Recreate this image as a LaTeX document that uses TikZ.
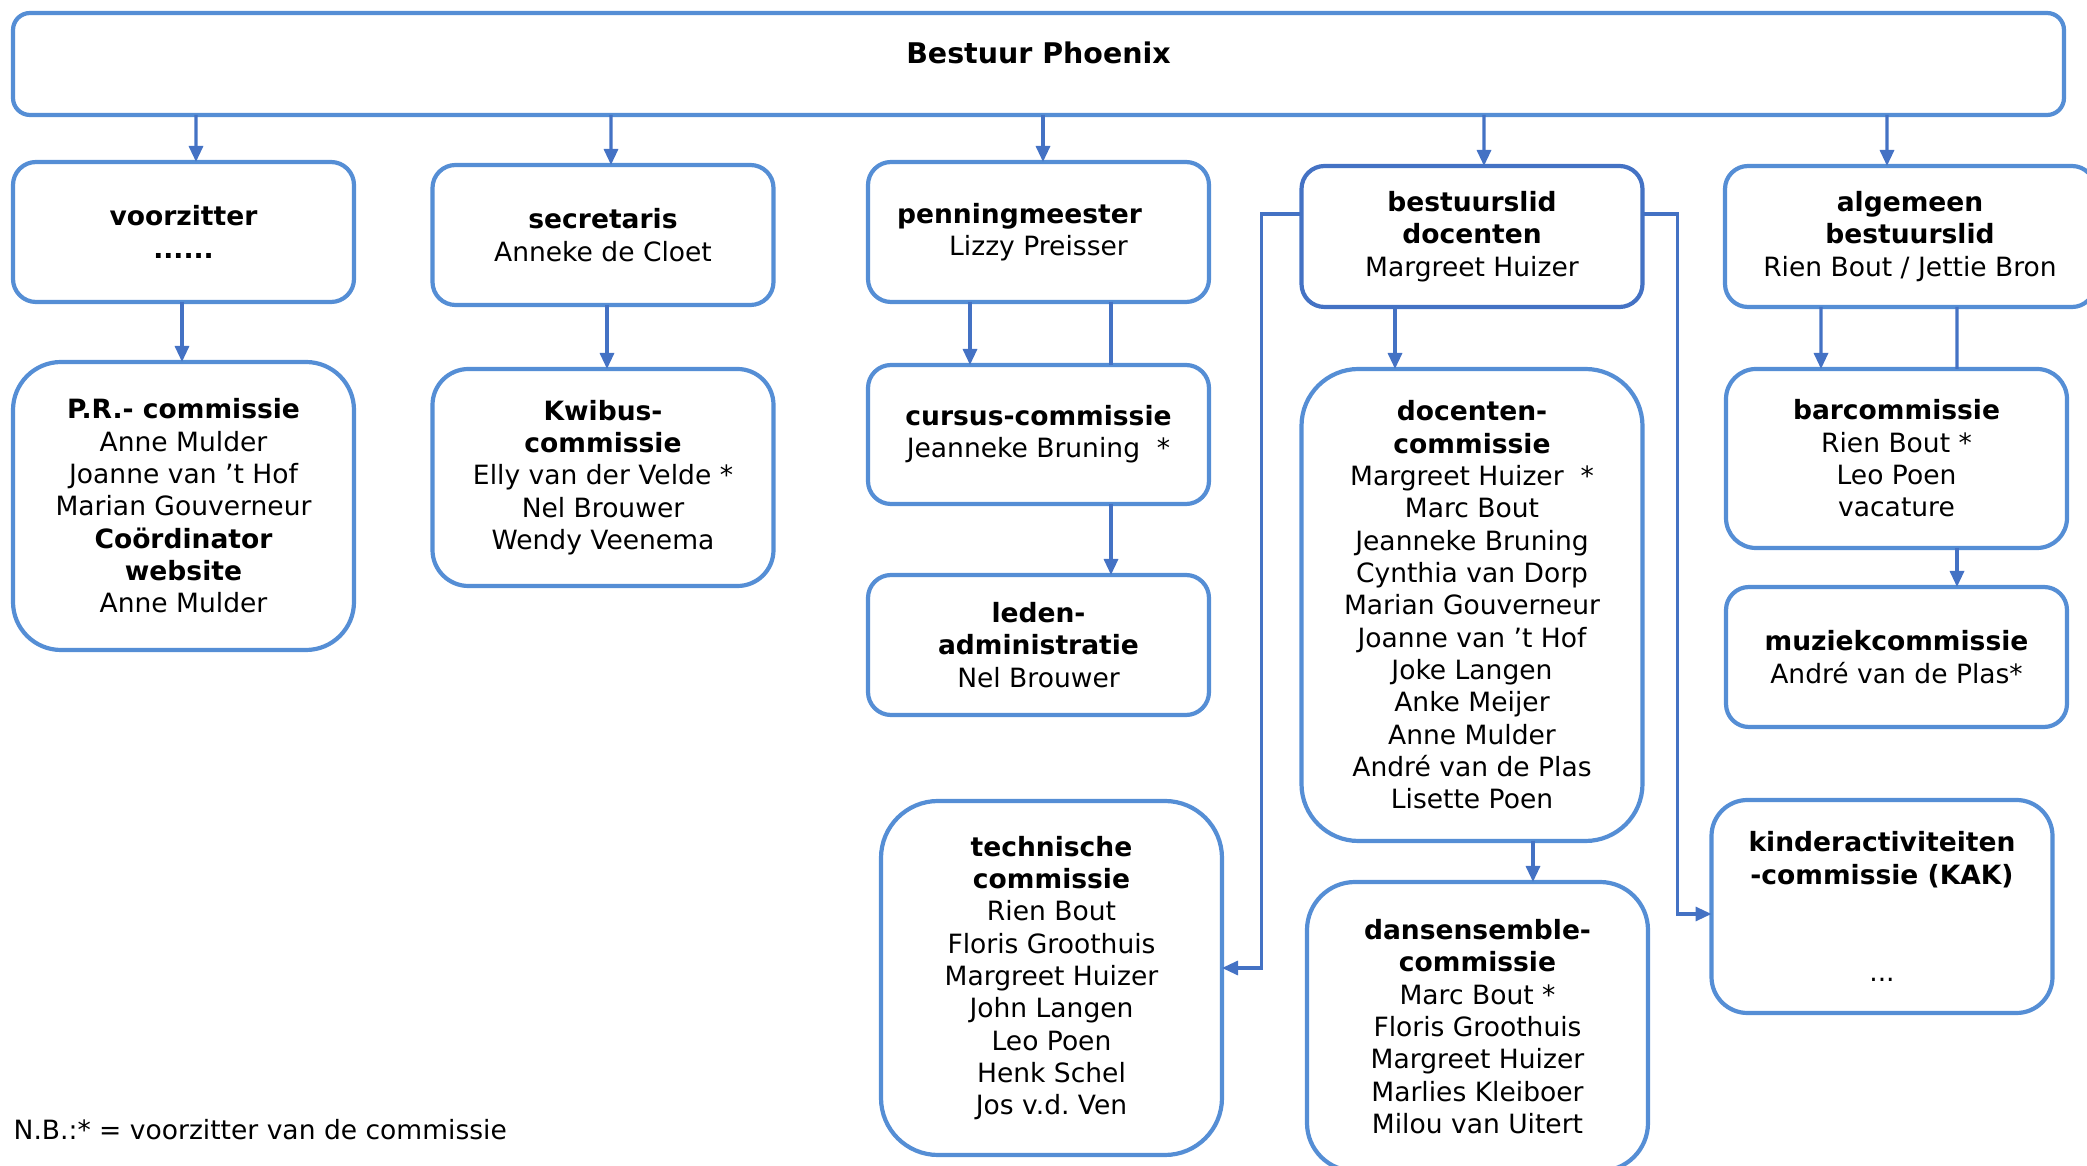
\documentclass[tikz,border=0pt]{standalone}
\usepackage{fontspec}
\setmainfont{DejaVu Sans}
\usepackage{tikz}
\usetikzlibrary{arrows.meta}
\definecolor{randblauw}{HTML}{558ED5}
\definecolor{lijnblauw}{HTML}{4472C4}
\frenchspacing

\begin{document}
\begin{tikzpicture}[x=0.1mm,y=-0.1mm]
		\useasboundingbox (0,0) rectangle (2087,1166);

		\begin{scope}[every node/.style={draw=randblauw,line width=0.42mm,fill=white,align=center,inner sep=0pt,outer sep=0pt,
					  minimum width=34.1mm,minimum height=14mm,rounded corners=2.3mm,font=\fontsize{7.55}{9.2}\selectfont}]
			\node[minimum width=205.1mm,minimum height=10.2mm,rounded corners=1.7mm,text depth=2.2mm,
				  font=\fontsize{8.1}{10}\selectfont\bfseries] (bestuur) at (1038.5,64) {Bestuur Phoenix};

			% bestuursleden
			\node (vz) at (183.5,232) {\textbf{voorzitter}\\\textbf{......}};
			\node (sec) at (603,235) {\textbf{secretaris}\\Anneke de Cloet};
			\node (pen) at (1038.5,232) {\textbf{penningmeester}\kern3.8mm\\Lizzy Preisser};
			\node[draw=lijnblauw,minimum height=14.1mm] (bdoc) at (1472,236.5) {\textbf{bestuurslid}\\\textbf{docenten}\\Margreet Huizer};
			\node[minimum width=37mm,minimum height=14.1mm] (alg) at (1910,236.5) {\textbf{algemeen}\\\textbf{bestuurslid}\\Rien Bout / Jettie Bron};

			% commissies
			\node[minimum height=28.8mm,rounded corners=4.8mm] (pr) at (183.5,506) {\textbf{P.R.- commissie}\\Anne Mulder\\Joanne van ’t Hof\\Marian Gouverneur\\\textbf{Coördinator}\\\textbf{website}\\Anne Mulder};
			\node[minimum height=21.7mm,rounded corners=3.6mm] (kw) at (603,477.5) {\textbf{Kwibus-}\\\textbf{commissie}\\Elly van der Velde *\\Nel Brouwer\\Wendy Veenema};
			\node[minimum height=13.9mm] (cur) at (1038.5,434.5) {\textbf{cursus-commissie}\\Jeanneke Bruning~~*};
			\node (led) at (1038.5,645) {\textbf{leden-}\\\textbf{administratie}\\Nel Brouwer};
			\node[minimum height=35.4mm,rounded corners=5.7mm] (tech) at (1051.5,978) {\textbf{technische}\\\textbf{commissie}\\Rien Bout\\Floris Groothuis\\Margreet Huizer\\John Langen\\Leo Poen\\Henk Schel\\Jos v.d. Ven};
			\node[minimum height=47.2mm,rounded corners=5.7mm] (dcom) at (1472,605) {\textbf{docenten-}\\\textbf{commissie}\\Margreet Huizer~~*\\Marc Bout\\Jeanneke Bruning\\Cynthia van Dorp\\Marian Gouverneur\\Joanne van ’t Hof\\Joke Langen\\Anke Meijer\\Anne Mulder\\André van de Plas\\Lisette Poen};
			\node[minimum height=28.9mm,rounded corners=4.8mm] (dans) at (1477.5,1026.5) {\textbf{dansensemble-}\\\textbf{commissie}\\Marc Bout *\\Floris Groothuis\\Margreet Huizer\\Marlies Kleiboer\\Milou van Uitert};
			\node[minimum height=17.9mm,rounded corners=3mm] (bar) at (1896.5,458.5) {\textbf{barcommissie}\\Rien Bout *\\Leo Poen\\vacature};
			\node (muz) at (1896.5,657) {\textbf{muziekcommissie}\\André van de Plas*};
			\node[minimum height=21.3mm,rounded corners=3.6mm] (kak) at (1882,906.5) {\textbf{kinderactiviteiten}\\\textbf{-commissie (KAK)}\\~\\~\\...};
		\end{scope}

		\node[anchor=west,inner sep=0pt,font=\fontsize{7.55}{9.2}\selectfont] (nb) at (13,1130) {N.B.:* = voorzitter van de commissie};

		\begin{scope}[>={Triangle[length=1.6mm,width=1.4mm]},
					  lijn/.style={draw=lijnblauw,line width=0.32mm},
					  every edge/.style=lijn]
			\path [->] ([xshift=18.3mm]bestuur.south west) edge ([xshift=1.25mm]vz.north);
			\path [->] ([xshift=59.8mm]bestuur.south west) edge ([xshift=0.8mm]sec.north);
			\path [->] ([xshift=103mm]bestuur.south west) edge ([xshift=0.45mm]pen.north);
			\path [->] ([xshift=147.1mm]bestuur.south west) edge ([xshift=1.2mm]bdoc.north);
			\path [->] ([xshift=187.4mm]bestuur.south west) edge ([xshift=-2.3mm]alg.north);

			\path [->] ([xshift=-0.15mm]vz.south) edge ([xshift=-0.15mm]pr.north);
			\path [->] ([xshift=0.4mm]sec.south) edge ([xshift=0.4mm]kw.north);
			\path [->] ([xshift=-6.85mm]pen.south) edge ([xshift=-6.85mm]cur.north);
			\path [-] ([xshift=7.25mm]pen.south) edge ([xshift=7.25mm]cur.north);
			\path [->] ([xshift=7.25mm]cur.south) edge ([xshift=7.25mm]led.north);
			\path [->] ([xshift=-7.7mm]bdoc.south) edge ([xshift=-7.7mm]dcom.north);
			\path [->] ([xshift=6.1mm]dcom.south) edge ([xshift=5.55mm]dans.north);
			\path [->] ([xshift=-8.9mm]alg.south) edge ([xshift=-7.55mm]bar.north);
			\path [-] ([xshift=4.7mm]alg.south) edge ([xshift=6.05mm]bar.north);
			\path [->] ([xshift=6.05mm]bar.south) edge ([xshift=6.05mm]muz.north);

			\draw [->,lijn] ([yshift=2.25mm]bdoc.west) -- ++(-4mm,0) |- ([yshift=1mm]tech.east);
			\draw [->,lijn] ([yshift=2.25mm]bdoc.east) -- ++(3.5mm,0) |- ([yshift=-0.75mm]kak.west);
		\end{scope}
\end{tikzpicture}
\end{document}
